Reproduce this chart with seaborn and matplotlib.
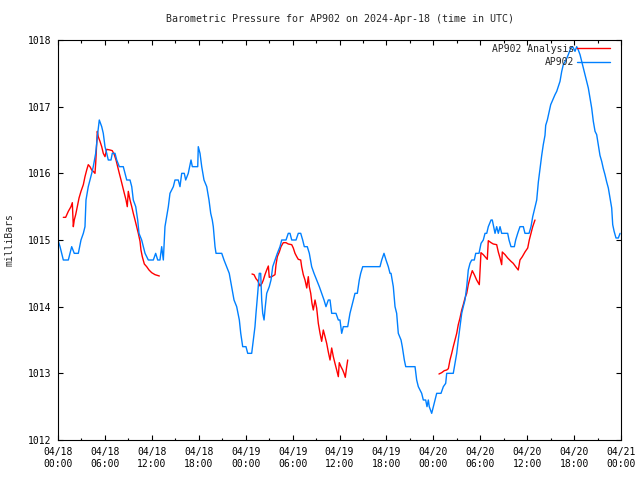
import matplotlib
matplotlib.use("Agg")
import matplotlib.pyplot as plt
import matplotlib.dates as mdates
import numpy as np
import pandas as pd
import seaborn as sns

# hours since 2024-04-18 00:00 UTC, pressure in mb
station_hours = [
    0.0, 0.26, 0.68, 1.32, 1.75, 2.08, 2.6, 2.94, 3.24, 3.45, 3.58, 3.87, 4.31, 4.51, 4.82,
    5.08, 5.28, 5.59, 5.79, 6.01, 6.23, 6.43, 6.78, 6.94, 7.29, 7.51, 7.84, 8.35, 8.57, 8.79,
    9.21, 9.43, 9.63, 9.94, 10.19, 10.36, 10.7, 10.91, 11.13, 11.55, 12.19, 12.49, 12.75, 13.04,
    13.26, 13.47, 13.68, 14.11, 14.32, 14.75, 14.96, 15.38, 15.6, 15.82, 16.15, 16.33, 16.66,
    17.01, 17.18, 17.87, 17.94, 18.16, 18.38, 18.67, 19.02, 19.31, 19.53, 19.73, 19.86, 20.08,
    20.21, 20.94, 21.23, 21.57, 21.9, 22.21, 22.51, 22.85, 23.19, 23.37, 23.62, 24.04, 24.26,
    24.77, 24.98, 25.19, 25.32, 25.54, 25.74, 25.92, 26.05, 26.18, 26.35, 26.51, 26.69, 27.02,
    27.24, 27.46, 27.75, 28.05, 28.39, 28.61, 29.16, 29.45, 29.67, 29.89, 30.44, 30.73, 31.04,
    31.29, 31.5, 31.88, 32.14, 32.44, 32.74, 33.08, 33.42, 33.72, 34.02, 34.27, 34.57, 34.79,
    35.0, 35.55, 35.85, 36.06, 36.28, 36.49, 37.05, 37.34, 37.56, 37.77, 37.98, 38.28, 38.53,
    38.71, 38.97, 41.18, 41.4, 41.69, 41.95, 42.24, 42.46, 42.59, 42.88, 43.1, 43.31, 43.52,
    43.87, 44.03, 44.29, 44.47, 45.66, 45.87, 46.08, 46.3, 46.51, 46.72, 47.02, 47.19, 47.36,
    47.48, 47.79, 48.0, 48.21, 48.43, 48.98, 49.28, 49.58, 49.71, 50.55, 50.77, 50.99, 51.19,
    51.41, 51.63, 51.83, 52.05, 52.27, 52.47, 52.69, 52.91, 53.24, 53.42, 53.84, 54.1, 54.39,
    54.61, 54.83, 55.03, 55.38, 55.54, 55.89, 56.1, 56.31, 56.53, 56.74, 57.51, 57.68, 57.93,
    58.36, 58.53, 58.79, 59.08, 59.51, 59.72, 60.24, 60.49, 60.71, 60.91, 61.22, 61.43, 61.64,
    61.86, 62.06, 62.28, 62.37, 62.58, 62.83, 63.01, 63.26, 63.56, 63.78, 63.98, 64.2, 64.42,
    64.62, 64.97, 65.26, 65.57, 65.82, 66.12, 66.33, 66.54, 66.76, 66.97, 67.18, 67.4, 67.61,
    67.82, 68.04, 68.25, 68.46, 68.68, 68.89, 69.1, 69.31, 69.53, 69.74, 69.95, 70.17, 70.38,
    70.59, 70.81, 70.94, 71.12, 71.36, 71.66, 71.88,
]
station_mb = [
    1015.0, 1014.9, 1014.7, 1014.7, 1014.9, 1014.8, 1014.8, 1015.0, 1015.1, 1015.2, 1015.6,
    1015.8, 1016.0, 1016.1, 1016.3, 1016.6, 1016.8, 1016.7, 1016.6, 1016.4, 1016.3, 1016.2,
    1016.2, 1016.3, 1016.3, 1016.2, 1016.1, 1016.1, 1016.0, 1015.9, 1015.9, 1015.8, 1015.6,
    1015.5, 1015.3, 1015.1, 1015.0, 1014.9, 1014.8, 1014.7, 1014.7, 1014.8, 1014.7, 1014.7,
    1014.9, 1014.7, 1015.2, 1015.5, 1015.7, 1015.8, 1015.9, 1015.9, 1015.8, 1016.0, 1016.0,
    1015.9, 1016.0, 1016.2, 1016.1, 1016.1, 1016.4, 1016.3, 1016.1, 1015.9, 1015.8, 1015.6,
    1015.4, 1015.3, 1015.2, 1014.9, 1014.8, 1014.8, 1014.7, 1014.6, 1014.5, 1014.3, 1014.1,
    1014.0, 1013.8, 1013.6, 1013.4, 1013.4, 1013.3, 1013.3, 1013.5, 1013.7, 1013.9, 1014.2,
    1014.5, 1014.5, 1014.1, 1013.9, 1013.8, 1014.0, 1014.2, 1014.3, 1014.4, 1014.6, 1014.7,
    1014.8, 1014.9, 1015.0, 1015.0, 1015.1, 1015.1, 1015.0, 1015.0, 1015.1, 1015.1, 1015.0,
    1014.9, 1014.9, 1014.8, 1014.6, 1014.5, 1014.4, 1014.3, 1014.2, 1014.1, 1014.0, 1014.1,
    1014.1, 1013.9, 1013.9, 1013.8, 1013.8, 1013.6, 1013.7, 1013.7, 1013.9, 1014.0, 1014.1,
    1014.2, 1014.2, 1014.4, 1014.5, 1014.6, 1014.6, 1014.7, 1014.8, 1014.7, 1014.6, 1014.5,
    1014.5, 1014.3, 1014.0, 1013.9, 1013.6, 1013.5, 1013.4, 1013.2, 1013.1, 1013.1, 1012.9,
    1012.8, 1012.75, 1012.7, 1012.6, 1012.6, 1012.5, 1012.6, 1012.5, 1012.4, 1012.5, 1012.6,
    1012.7, 1012.7, 1012.8, 1012.85, 1013.0, 1013.0, 1013.15, 1013.3, 1013.5, 1013.7, 1013.9,
    1014.0, 1014.1, 1014.3, 1014.55, 1014.65, 1014.7, 1014.7, 1014.8, 1014.8, 1014.95, 1015.0,
    1015.1, 1015.1, 1015.2, 1015.3, 1015.3, 1015.1, 1015.2, 1015.1, 1015.2, 1015.1, 1015.1,
    1015.0, 1014.9, 1014.9, 1015.0, 1015.1, 1015.2, 1015.2, 1015.1, 1015.1, 1015.2, 1015.35,
    1015.45, 1015.6, 1015.87, 1016.07, 1016.27, 1016.43, 1016.57, 1016.72, 1016.8, 1016.93,
    1017.03, 1017.1, 1017.18, 1017.23, 1017.3, 1017.38, 1017.53, 1017.63, 1017.7, 1017.78,
    1017.88, 1017.9, 1017.83, 1017.9, 1017.85, 1017.78, 1017.68, 1017.58, 1017.48, 1017.38,
    1017.28, 1017.13, 1016.98, 1016.78, 1016.63, 1016.58, 1016.43, 1016.27, 1016.18, 1016.07,
    1015.98, 1015.87, 1015.78, 1015.63, 1015.48, 1015.23, 1015.13, 1015.03, 1015.03, 1015.1,
]

# analysis runs (three separate pieces)
analysis_hours_1 = [
    0.68, 0.98, 1.32, 1.66, 1.83, 1.96, 2.08, 2.26, 2.52, 2.69, 2.94, 3.24, 3.45, 3.67, 3.87,
    4.09, 4.31, 4.51, 4.73, 4.82, 4.95, 5.03, 5.15, 5.37, 5.59, 5.79, 6.01, 6.23, 6.65, 6.94,
    7.2, 7.42, 7.63, 7.84, 8.06, 8.27, 8.48, 8.7, 8.86, 8.99, 9.21, 9.43, 9.63, 9.85, 10.06,
    10.27, 10.49, 10.61, 10.78, 11.04, 11.34, 11.64, 11.98, 12.41, 12.96,
]
analysis_mb_1 = [
    1015.34, 1015.34, 1015.43, 1015.5, 1015.56, 1015.2, 1015.3, 1015.38, 1015.53, 1015.63,
    1015.73, 1015.83, 1015.95, 1016.05, 1016.13, 1016.1, 1016.05, 1016.03, 1016.0, 1016.15,
    1016.45, 1016.63, 1016.55, 1016.48, 1016.4, 1016.3, 1016.25, 1016.36, 1016.35, 1016.34,
    1016.28, 1016.2, 1016.1, 1016.0, 1015.9, 1015.8, 1015.7, 1015.6, 1015.5, 1015.73, 1015.6,
    1015.5, 1015.4, 1015.3, 1015.2, 1015.1, 1014.98, 1014.85, 1014.75, 1014.64, 1014.6,
    1014.55, 1014.51, 1014.48, 1014.46,
]
analysis_hours_2 = [
    24.81, 25.07, 25.32, 25.54, 25.83, 26.09, 26.26, 26.47, 26.69, 26.9, 27.02, 27.33, 27.75,
    27.88, 28.05, 28.3, 28.52, 28.81, 29.16, 29.45, 29.89, 30.09, 30.31, 30.53, 30.73, 31.04,
    31.16, 31.37, 31.59, 31.81, 32.01, 32.14, 32.32, 32.48, 32.65, 32.87, 33.08, 33.29, 33.51,
    33.72, 33.93, 34.15, 34.36, 34.57, 34.79, 35.0, 35.21, 35.42, 35.64, 35.85, 35.97, 36.19,
    36.41, 36.61, 36.74, 36.92, 37.05,
]
analysis_mb_2 = [
    1014.49, 1014.48, 1014.42, 1014.39, 1014.31, 1014.35, 1014.4, 1014.48, 1014.55, 1014.61,
    1014.44, 1014.45, 1014.48, 1014.63, 1014.75, 1014.82, 1014.9, 1014.96, 1014.96, 1014.94,
    1014.93, 1014.88, 1014.8, 1014.75, 1014.71, 1014.7, 1014.6, 1014.48, 1014.4, 1014.28,
    1014.45, 1014.3, 1014.2, 1014.05, 1013.95, 1014.1, 1013.98, 1013.75, 1013.6, 1013.48,
    1013.65, 1013.55, 1013.45, 1013.32, 1013.2, 1013.38, 1013.25, 1013.15, 1013.05, 1012.95,
    1013.16, 1013.1, 1013.05, 1012.99, 1012.94, 1013.1, 1013.2,
]
analysis_hours_3 = [
    48.72, 49.07, 49.4, 49.71, 49.92, 50.13, 50.35, 50.55, 50.77, 50.99, 51.19, 51.41, 51.63,
    51.83, 52.05, 52.27, 52.47, 52.69, 52.98, 53.24, 53.54, 53.88, 54.0, 54.09, 54.39, 54.61,
    54.9, 55.03, 55.38, 55.67, 56.1, 56.31, 56.53, 56.74, 56.82, 57.17, 57.51, 57.93, 58.22,
    58.53, 58.86, 59.08, 59.38, 59.72, 60.07, 60.27, 60.49, 60.71, 61.0,
]
analysis_mb_3 = [
    1012.99, 1013.01, 1013.04, 1013.05, 1013.07, 1013.2, 1013.3, 1013.4, 1013.5, 1013.6,
    1013.73, 1013.83, 1013.95, 1014.03, 1014.13, 1014.2, 1014.33, 1014.43, 1014.54, 1014.48,
    1014.4, 1014.33, 1014.6, 1014.81, 1014.78, 1014.75, 1014.71, 1014.99, 1014.96, 1014.94,
    1014.93, 1014.82, 1014.73, 1014.63, 1014.82, 1014.78, 1014.73, 1014.68, 1014.65, 1014.6,
    1014.55, 1014.7, 1014.75, 1014.82, 1014.88, 1015.0, 1015.1, 1015.2, 1015.3,
]

start = pd.Timestamp("2024-04-18 00:00")
series_names = ["AP902 Analysis", "AP902"]
colors = {"AP902 Analysis": "#ff0000", "AP902": "#0080ff"}

# --- long table for seaborn ---
pieces = [
    ("AP902", 0, station_hours, station_mb),
    ("AP902 Analysis", 1, analysis_hours_1, analysis_mb_1),
    ("AP902 Analysis", 2, analysis_hours_2, analysis_mb_2),
    ("AP902 Analysis", 3, analysis_hours_3, analysis_mb_3),
]
frames = []
for name, seg, hrs, mb in pieces:
    frames.append(pd.DataFrame({
        "time": start + pd.to_timedelta(np.array(hrs), unit="h"),
        "pressure": mb,
        "series": name,
        "seg": seg,
    }))
df = pd.concat(frames, ignore_index=True)

sns.set_style("ticks")
plt.rcParams["font.family"] = ["DejaVu Sans Mono"]
plt.rcParams["font.size"] = 7

fig = plt.figure(figsize=(6.4, 4.8), dpi=100)
ax = fig.add_axes([58 / 640, 40 / 480, 563 / 640, 400 / 480])

sns.lineplot(
    data=df, x="time", y="pressure", hue="series", hue_order=series_names,
    units="seg", estimator=None, sort=False, palette=colors, linewidth=1.0, ax=ax,
)

ax.set_xlim(start, start + pd.Timedelta(hours=72))
ax.set_ylim(1012, 1018)
ax.set_yticks(range(1012, 1019))
ax.xaxis.set_major_locator(mdates.HourLocator(byhour=[0, 6, 12, 18]))
ax.xaxis.set_minor_locator(mdates.HourLocator(byhour=[3, 9, 15, 21]))
ax.xaxis.set_major_formatter(mdates.DateFormatter("%m/%d\n%H:%M"))
ax.tick_params(which="both", direction="in", top=True, right=True, color="black",
               labelsize=7, labelcolor="black")
ax.tick_params(which="major", length=3.6, width=0.8, pad=5)
ax.tick_params(which="minor", length=1.8, width=0.8)
for sp in ax.spines.values():
    sp.set_color("black")
    sp.set_linewidth(0.8)
ax.set_xlabel("")
ax.set_ylabel("")

handles, labels = ax.get_legend_handles_labels()
ax.legend(handles, labels, loc="upper right", bbox_to_anchor=(0.9876, 1.0),
          frameon=False, markerfirst=False, fontsize=7, handlelength=3.4,
          handletextpad=0.3, labelspacing=0.35, borderaxespad=0, borderpad=0.4)

# title is centred over the plot area, like gnuplot does
fig.text(339.5 / 640, 1 - 19 / 480,
         "Barometric Pressure for AP902 on 2024-Apr-18 (time in UTC)",
         ha="center", va="center", fontsize=7.2)
fig.text(10 / 640, 0.5, "milliBars", rotation=90, ha="center", va="center", fontsize=7)

fig.savefig("out.png", dpi=100)
